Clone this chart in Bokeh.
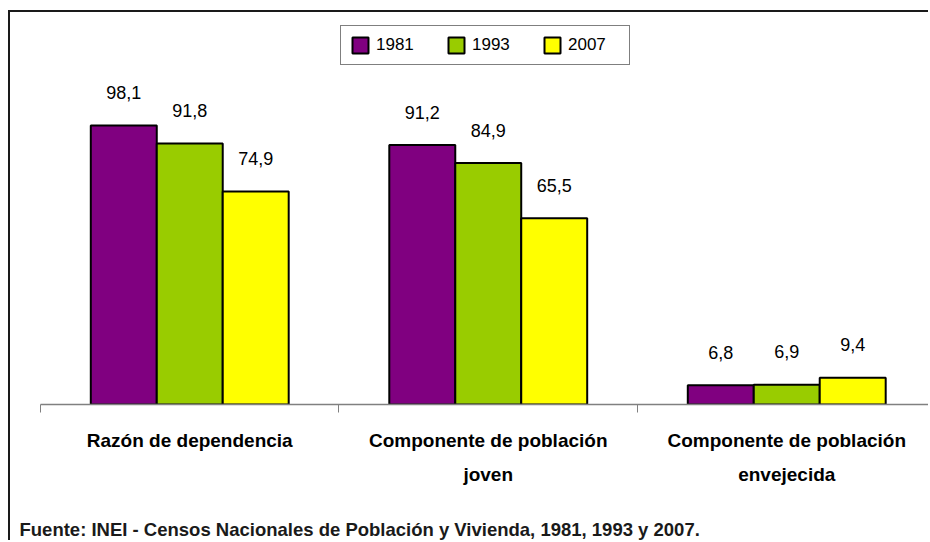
import numpy as np
from bokeh.plotting import figure
from bokeh.models import (ColumnDataSource, Range1d, FixedTicker, Legend, LegendItem,
                          LinearAxis, Title)
from bokeh.core.properties import value
from bokeh.embed import file_html
from bokeh.resources import INLINE

# ---- data ----
categories = ["Razón de dependencia",
              "Componente de población\njoven",
              "Componente de población\nenvejecida"]
years = ["1981", "1993", "2007"]
values_1981 = [98.1, 91.2, 6.8]
values_1993 = [91.8, 84.9, 6.9]
values_2007 = [74.9, 65.5, 9.4]
series = [values_1981, values_1993, values_2007]
colors = ["#800080", "#99CC00", "#FFFF00"]
source_note = "Fuente: INEI - Censos Nacionales de Población y Vivienda, 1981, 1993 y 2007."

FONT = "Liberation Sans"
BAR_W = 0.221
offsets = [-BAR_W, 0.0, BAR_W]

p = figure(width=920, height=530, output_backend="svg", toolbar_location=None,
           x_range=Range1d(0, 2.9816), y_range=Range1d(0, 135),
           y_axis_location=None,
           min_border_left=30, min_border_right=0, min_border_top=8, min_border_bottom=138,
           outline_line_color=None, background_fill_color="white", border_fill_color="white")
p.margin = (10, 0, 0, 8)
p.styles = {"border-top": "2px solid #1a1a1a", "border-left": "2px solid #1a1a1a"}
p.xgrid.visible = False
p.ygrid.visible = False

centers = np.arange(len(categories)) + 0.5
items = []
for yr, vals, col, off in zip(years, series, colors, offsets):
    src = ColumnDataSource(dict(
        x=centers + off,
        top=vals,
        label=[f"{v:.1f}".replace(".", ",") for v in vals],
    ))
    r = p.vbar(x="x", top="top", bottom=0, width=BAR_W, source=src,
               fill_color=col, line_color="black", line_width=2)
    p.text(x="x", y="top", text="label", source=src, y_offset=-33,
           text_align="center", text_baseline="alphabetic",
           text_font=value(FONT), text_font_size="18px", text_color="black")
    items.append(LegendItem(label=yr, renderers=[r]))

ax = p.xaxis[0]
ax.ticker = FixedTicker(ticks=list(centers), minor_ticks=list(range(len(categories) + 1)))
ax.major_label_overrides = {float(c): lab for c, lab in zip(centers, categories)}
ax.major_tick_line_color = None
ax.major_tick_out = 0
ax.major_tick_in = 0
ax.minor_tick_line_color = "#808080"
ax.minor_tick_out = 8
ax.minor_tick_in = 0
ax.axis_line_color = "#808080"
ax.axis_line_width = 1.5
ax.major_label_standoff = 17
ax.major_label_text_font = FONT
ax.major_label_text_font_size = "19px"
ax.major_label_text_font_style = "bold"
ax.major_label_text_color = "black"
ax.major_label_text_line_height = 1.65

# blank spacer band between the category labels and the source note
spacer = LinearAxis(ticker=FixedTicker(ticks=[0]), major_tick_out=26, major_tick_in=0,
                    major_tick_line_color="white", minor_tick_line_color=None,
                    minor_tick_out=0, minor_tick_in=0,
                    axis_line_color=None, major_label_standoff=0,
                    major_label_text_color=None)
p.add_layout(spacer, "below")

legend = Legend(items=items, orientation="horizontal", location="top_center",
                padding=9, spacing=18, margin=5, label_height=20,
                glyph_width=20, glyph_height=20, label_standoff=6, label_width=52,
                label_text_font=FONT, label_text_font_size="17px", label_text_color="black",
                border_line_color="black", border_line_width=1,
                background_fill_color="white", background_fill_alpha=1.0)
p.add_layout(legend, "center")

note = Title(text=source_note, align="left", offset=-21, vertical_align="bottom",
             standoff=4, text_font=FONT, text_font_size="18.5px", text_font_style="bold",
             text_color="#1a1a1a")
p.add_layout(note, "below")

open("out.html", "w").write(file_html(p, INLINE))
